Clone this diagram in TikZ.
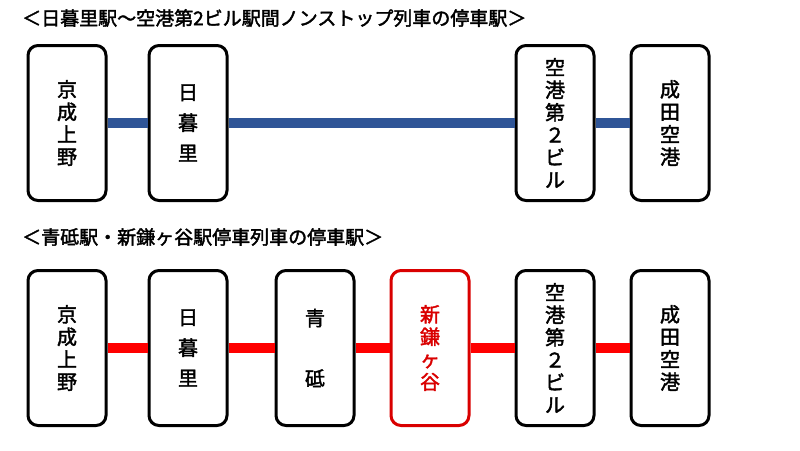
\documentclass[tikz,border=0pt]{standalone}
\usepackage{fontspec}
\setmainfont{Noto Sans CJK JP}[AutoFakeBold=2]
\usetikzlibrary{positioning}
\definecolor{lineblue}{HTML}{2F5597}
\definecolor{linered}{HTML}{FF0000}
\tikzset{
  stn/.style={draw, line width=3pt, rounded corners=10pt, minimum width=78pt, minimum height=155pt, align=center, font=\bfseries\fontsize{20}{22.5}\selectfont, inner sep=0pt},
  redstn/.style={stn, draw=red!85!black, text=red!85!black},
  blueline/.style={lineblue, line width=10pt},
  redline/.style={linered, line width=10pt},
  ttl/.style={anchor=west, font=\bfseries\fontsize{19}{22}\selectfont, inner sep=0pt}
}
\begin{document}
\begin{tikzpicture}[x=1pt,y=-1pt]
\useasboundingbox (0,0) rectangle (800,450);
% nonstop train
\node[ttl] (t1) at (22,18) {＜日暮里駅～空港第2ビル駅間ノンストップ列車の停車駅＞};
\node[stn] (a1) at (67,123) {京\\成\\上\\野};
\node[stn] (a2) at (188,123) {日\\[8pt]暮\\[8pt]里};
\node[stn] (a5) at (555,123) {空\\港\\第\\２\\ビ\\ル};
\node[stn] (a6) at (670,123) {成\\田\\空\\港};
\draw[blueline] (a1) -- (a2);
\draw[blueline] (a2) -- (a5);
\draw[blueline] (a5) -- (a6);
% stopping train
\node[ttl] (t2) at (22,237) {＜青砥駅・新鎌ヶ谷駅停車列車の停車駅＞};
\node[stn] (b1) at (67,348) {京\\成\\上\\野};
\node[stn] (b2) at (188,348) {日\\[8pt]暮\\[8pt]里};
\node[stn] (b3) at (315,348) {青\\[38pt]砥};
\node[redstn] (b4) at (430,348) {新\\鎌\\ヶ\\谷};
\node[stn] (b5) at (555,348) {空\\港\\第\\２\\ビ\\ル};
\node[stn] (b6) at (670,348) {成\\田\\空\\港};
\draw[redline] (b1) -- (b2);
\draw[redline] (b2) -- (b3);
\draw[redline] (b3) -- (b4);
\draw[redline] (b4) -- (b5);
\draw[redline] (b5) -- (b6);
\end{tikzpicture}
\end{document}
